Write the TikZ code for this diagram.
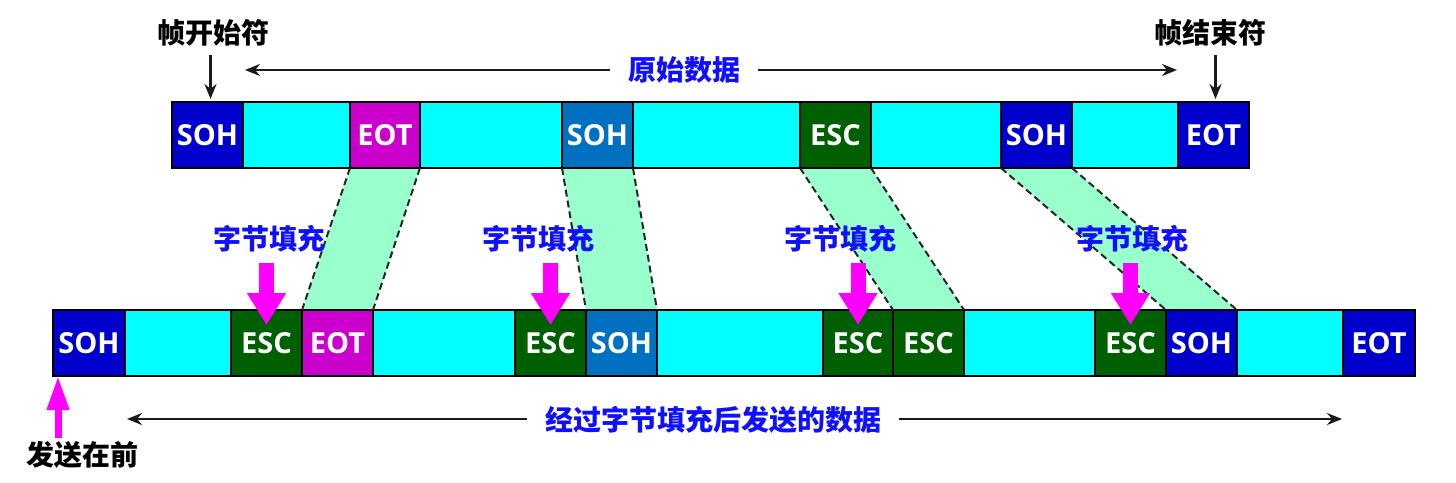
\documentclass[tikz,border=0pt]{standalone}
\usepackage{fontspec}
\setmainfont{Open Sans}
\newfontfamily\cjk{Noto Sans CJK SC}
\usepackage{tikz}
\usetikzlibrary{positioning, arrows.meta, backgrounds}

\definecolor{sohdark}{HTML}{0000CC}
\definecolor{sohlight}{HTML}{0070C0}
\definecolor{datacyan}{HTML}{00FFFF}
\definecolor{eotmag}{HTML}{CC00CC}
\definecolor{escgreen}{HTML}{005F00}
\definecolor{bandgreen}{HTML}{99FFCC}
\definecolor{lblblue}{HTML}{1010FF}
\definecolor{fatmag}{HTML}{FF00FF}

\tikzset{
  cell/.style = {draw = black, line width = 1.5pt, inner sep = 0pt, outer sep = 0pt,
    minimum height = 66pt, anchor = west, text = white,
    font = \fontsize{29}{29}\selectfont\bfseries},
  data/.style = {cell, fill = datacyan},
  soh/.style = {cell, fill = sohdark},
  sohb/.style = {cell, fill = sohlight},
  eot/.style = {cell, fill = eotmag},
  esc/.style = {cell, fill = escgreen},
  cjklbl/.style = {inner sep = 0pt, font = \cjk\bfseries\fontsize{28}{28}\selectfont},
  bluelbl/.style = {cjklbl, text = lblblue},
  band/.style = {fill = bandgreen},
  bandedge/.style = {draw = black!85, line width = 2pt, dash pattern = on 7pt off 4pt},
  thinarrow/.style = {draw = black!90, line width = 2.5pt, -{Stealth[length = 15pt, width = 12pt]}},
  fatarrow/.style = {draw = fatmag, line width = 15pt, -{Triangle[length = 32pt, width = 37pt]}},
}

\begin{document}
\begin{tikzpicture}[x = 1pt, y = -1pt]
\useasboundingbox (0, 0) rectangle (1456, 482);

% original frame
\node[soh, minimum width = 71pt] (t1) at (172, 135) {SOH};
\node[data, minimum width = 107pt, right = 0pt of t1] (t2) {};
\node[eot, minimum width = 70pt, right = 0pt of t2] (t3) {EOT};
\node[data, minimum width = 142pt, right = 0pt of t3] (t4) {};
\node[sohb, minimum width = 71pt, right = 0pt of t4] (t5) {SOH};
\node[data, minimum width = 167pt, right = 0pt of t5] (t6) {};
\node[esc, minimum width = 71pt, right = 0pt of t6] (t7) {ESC};
\node[data, minimum width = 130pt, right = 0pt of t7] (t8) {};
\node[soh, minimum width = 71pt, right = 0pt of t8] (t9) {SOH};
\node[data, minimum width = 106pt, right = 0pt of t9] (t10) {};
\node[soh, minimum width = 71pt, right = 0pt of t10] (t11) {EOT};

% stuffed frame
\node[soh, minimum width = 72pt] (b1) at (53, 343) {SOH};
\node[data, minimum width = 106pt, right = 0pt of b1] (b2) {};
\node[esc, minimum width = 71pt, right = 0pt of b2] (b3) {ESC};
\node[eot, minimum width = 71pt, right = 0pt of b3] (b4) {EOT};
\node[data, minimum width = 142pt, right = 0pt of b4] (b5) {};
\node[esc, minimum width = 71pt, right = 0pt of b5] (b6) {ESC};
\node[sohb, minimum width = 71pt, right = 0pt of b6] (b7) {SOH};
\node[data, minimum width = 166pt, right = 0pt of b7] (b8) {};
\node[esc, minimum width = 70pt, right = 0pt of b8] (b9) {ESC};
\node[esc, minimum width = 71pt, right = 0pt of b9] (b10) {ESC};
\node[data, minimum width = 131pt, right = 0pt of b10] (b11) {};
\node[esc, minimum width = 71pt, right = 0pt of b11] (b12) {ESC};
\node[soh, minimum width = 71pt, right = 0pt of b12] (b13) {SOH};
\node[data, minimum width = 106pt, right = 0pt of b13] (b14) {};
\node[soh, minimum width = 72pt, right = 0pt of b14] (b15) {EOT};

% bands between the frames
\begin{scope}[on background layer]
\fill[band] (t3.south west) -- (t3.south east) -- (b4.north east) -- (b4.north west) -- cycle;
\fill[band] (t5.south west) -- (t5.south east) -- (b7.north east) -- (b7.north west) -- cycle;
\fill[band] (t7.south west) -- (t7.south east) -- (b10.north east) -- (b10.north west) -- cycle;
\fill[band] (t9.south west) -- (t9.south east) -- (b13.north east) -- (b13.north west) -- cycle;
\end{scope}
\draw[bandedge] (t3.south west) -- (b4.north west);
\draw[bandedge] (t3.south east) -- (b4.north east);
\draw[bandedge] (t5.south west) -- (b7.north west);
\draw[bandedge] (t5.south east) -- (b7.north east);
\draw[bandedge] (t7.south west) -- (b10.north west);
\draw[bandedge] (t7.south east) -- (b10.north east);
\draw[bandedge] (t9.south west) -- (b13.north west);
\draw[bandedge] (t9.south east) -- (b13.north east);

% top labels
\node[cjklbl] (fstart) at (213, 33) {帧开始符};
\node[cjklbl] (fend) at (1210, 33) {帧结束符};
\draw[thinarrow, shorten >= 3pt] ([xshift = 3pt]t1.north |- 0, 55) -- ([xshift = 3pt]t1.north);
\draw[thinarrow, shorten >= 3pt] ([xshift = 2pt]t11.north |- 0, 55) -- ([xshift = 2pt]t11.north);
\coordinate (origL) at (245, 70);
\coordinate (origR) at (1177, 70);
\draw[thinarrow, {Stealth[length = 15pt, width = 12pt]}-{Stealth[length = 15pt, width = 12pt]}] (origL) -- (origR);
\node[bluelbl, fill = white, inner xsep = 18pt, inner ysep = 4pt] (orig) at (684, 70) {原始数据};

% stuffing
\node[bluelbl] (fill1) at (269, 239) {字节填充};
\node[bluelbl] (fill2) at (538, 239) {字节填充};
\node[bluelbl] (fill3) at (840, 239) {字节填充};
\node[bluelbl] (fill4) at (1132, 239) {字节填充};
\draw[fatarrow] ([yshift = 47pt]b3.north) -- ([yshift = -15pt]b3.north);
\draw[fatarrow] ([yshift = 47pt]b6.north) -- ([yshift = -15pt]b6.north);
\draw[fatarrow] ([yshift = 47pt]b9.north) -- ([yshift = -15pt]b9.north);
\draw[fatarrow] ([yshift = 47pt]b12.north) -- ([yshift = -15pt]b12.north);

% bottom labels
\coordinate (sentL) at (127, 419);
\coordinate (sentR) at (1342, 419);
\draw[thinarrow, {Stealth[length = 15pt, width = 12pt]}-{Stealth[length = 15pt, width = 12pt]}] (sentL) -- (sentR);
\node[bluelbl, fill = white, inner xsep = 18pt, inner ysep = 4pt] (sent) at (713, 420) {经过字节填充后发送的数据};
\node[cjklbl] (first) at (82, 455) {发送在前};
\draw[draw = fatmag, line width = 7pt, -{Triangle[length = 34pt, width = 21pt]}] (b1.south west |- first.north) ++(5, -3) coordinate (firstbase) -- (b1.south west -| firstbase);
\end{tikzpicture}
\end{document}
